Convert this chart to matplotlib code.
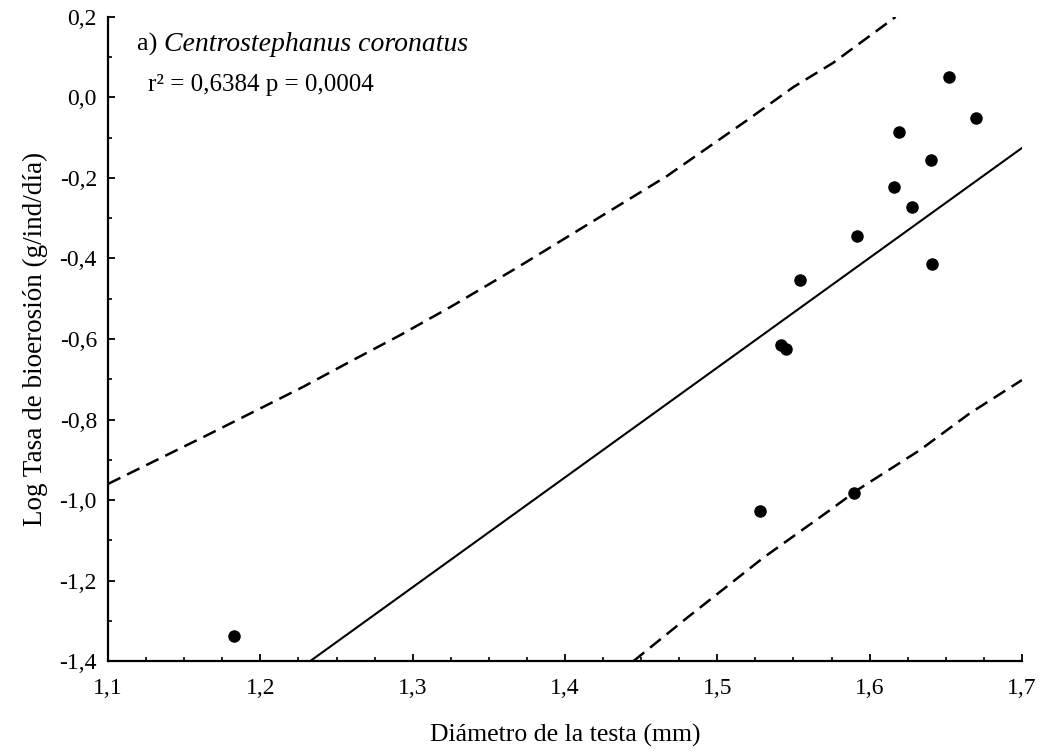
import numpy as np
import matplotlib
matplotlib.use("Agg")
import matplotlib.pyplot as plt
from matplotlib.ticker import MultipleLocator, FuncFormatter

plt.rcParams['font.family'] = ['Liberation Serif', 'DejaVu Serif']

# observed points (diametro, log tasa)
diam = [1.183, 1.528, 1.590, 1.542, 1.545, 1.554, 1.592, 1.616,
        1.619, 1.628, 1.640, 1.641, 1.652, 1.670]
log_tasa = [-1.338, -1.027, -0.983, -0.614, -0.624, -0.453, -0.344, -0.222,
            -0.086, -0.272, -0.155, -0.414, 0.051, -0.051]

# fitted line
slope = 2.728
intercept = -4.763

# confidence bands (dashed)
upper_x = [1.100, 1.165, 1.228, 1.261, 1.292, 1.325, 1.368, 1.467, 1.519, 1.550, 1.576, 1.617]
upper_y = [-0.960, -0.839, -0.719, -0.652, -0.590, -0.520, -0.424, -0.195, -0.058, 0.026, 0.086, 0.200]
lower_x = [1.445, 1.480, 1.530, 1.574, 1.592, 1.633, 1.666, 1.700]
lower_y = [-1.400, -1.293, -1.144, -1.025, -0.975, -0.876, -0.784, -0.702]

fig = plt.figure(figsize=(10.46, 7.51), dpi=100)
ax = fig.add_axes([0.1033, 0.1198, 0.8737, 0.8576])

xl = np.array([1.1, 1.7])
ax.plot(xl, slope * xl + intercept, color='black', lw=1.5)
ax.plot(upper_x, upper_y, color='black', lw=1.8, dashes=(5.5, 3))
ax.plot(lower_x, lower_y, color='black', lw=1.8, dashes=(5.5, 3))
ax.plot(diam, log_tasa, 'o', color='black', markersize=8, clip_on=False)

ax.set_xlim(1.1, 1.7)
ax.set_ylim(-1.4, 0.2)

for s in ['top', 'right']:
    ax.spines[s].set_visible(False)
for s in ['left', 'bottom']:
    ax.spines[s].set_linewidth(1.6)

ax.xaxis.set_major_locator(MultipleLocator(0.1))
ax.xaxis.set_minor_locator(MultipleLocator(0.025))
ax.yaxis.set_major_locator(MultipleLocator(0.2))
ax.yaxis.set_minor_locator(MultipleLocator(0.1))
comma = FuncFormatter(lambda v, p: ('%.1f' % v).replace('.', ',').replace('-0,0', '0,0'))
ax.xaxis.set_major_formatter(comma)
ax.yaxis.set_major_formatter(comma)
ax.tick_params(which='major', direction='in', length=5, width=1.3, labelsize=17)
ax.tick_params(axis='x', which='major', pad=12)
ax.tick_params(axis='y', which='major', pad=8)
ax.tick_params(which='minor', direction='in', length=3, width=1.2)

ax.set_xlabel('Diámetro de la testa (mm)', fontsize=18.5, labelpad=18)
ax.set_ylabel('Log Tasa de bioerosión (g/ind/día)', fontsize=19.5, labelpad=8)

ax.text(0.032, 0.957, 'a) ', transform=ax.transAxes, fontsize=19, va='center')
ax.text(0.061, 0.957, 'Centrostephanus coronatus', transform=ax.transAxes,
        fontsize=20, style='italic', va='center')
ax.text(0.044, 0.894, 'r² = 0,6384 p = 0,0004', transform=ax.transAxes,
        fontsize=18, va='center')

fig.savefig('out.png', dpi=100)
